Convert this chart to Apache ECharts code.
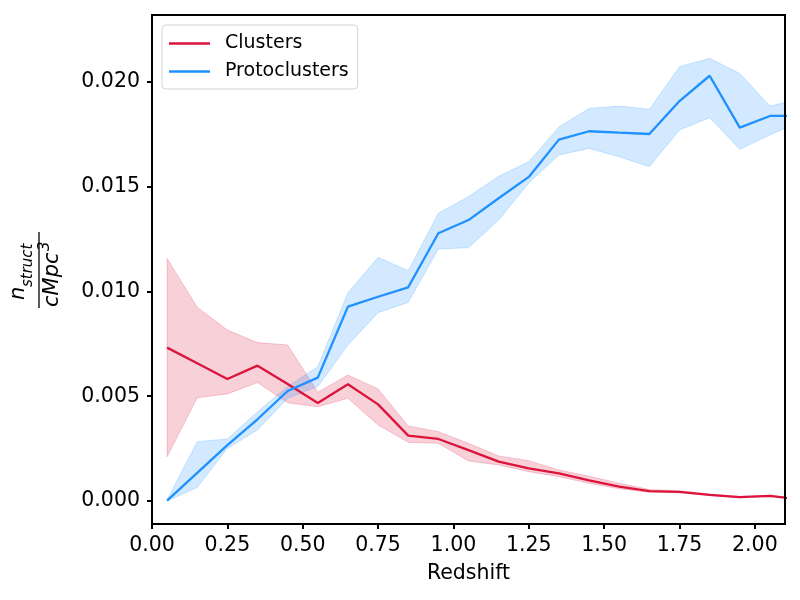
<!DOCTYPE html>
<html>
<head>
<meta charset="utf-8">
<script src="https://cdn.jsdelivr.net/npm/echarts@6/dist/echarts.min.js"></script>
<style>html,body{margin:0;padding:0;background:#fff}#c{width:800px;height:600px}</style>
</head>
<body>
<div id="c"></div>
<script>
// Redshift bins (last one lies beyond the axis edge and is clipped)
var redshift = [0.05, 0.15, 0.25, 0.35, 0.45, 0.55, 0.65, 0.75, 0.85, 0.95, 1.05, 1.15, 1.25, 1.35, 1.45, 1.55, 1.65, 1.75, 1.85, 1.95, 2.05, 2.15];

var clustersMean  = [0.00732, 0.00657, 0.00582, 0.00646, 0.00558, 0.00468, 0.00557, 0.00461, 0.00312, 0.00296, 0.00243, 0.00188, 0.00156, 0.00132, 0.00098, 0.00068, 0.00047, 0.00043, 0.00029, 0.00018, 0.00024, 0.00008];
var clustersUpper = [0.01158, 0.00925, 0.00816, 0.00756, 0.00745, 0.00519, 0.00601, 0.00535, 0.00358, 0.00331, 0.00275, 0.00215, 0.00192, 0.00148, 0.00118, 0.00085, 0.00055, 0.00048, 0.00033, 0.00021, 0.00027, 0.00010];
var clustersLower = [0.00211, 0.00493, 0.00511, 0.00565, 0.00469, 0.00450, 0.00490, 0.00363, 0.00280, 0.00275, 0.00191, 0.00172, 0.00140, 0.00116, 0.00084, 0.00058, 0.00042, 0.00039, 0.00026, 0.00016, 0.00021, 0.00006];

var protoMean  = [0.00002, 0.00134, 0.00267, 0.00390, 0.00525, 0.00589, 0.00928, 0.00975, 0.01020, 0.01278, 0.01341, 0.01445, 0.01547, 0.01725, 0.01765, 0.01758, 0.01752, 0.01909, 0.02030, 0.01782, 0.01838, 0.01838];
var protoUpper = [0.00005, 0.00283, 0.00296, 0.00426, 0.00546, 0.00641, 0.00994, 0.01163, 0.01099, 0.01373, 0.01453, 0.01550, 0.01620, 0.01785, 0.01874, 0.01885, 0.01870, 0.02073, 0.02113, 0.02041, 0.01885, 0.01920];
var protoLower = [0.00000, 0.00064, 0.00251, 0.00339, 0.00490, 0.00546, 0.00745, 0.00899, 0.00948, 0.01203, 0.01209, 0.01341, 0.01518, 0.01652, 0.01683, 0.01643, 0.01596, 0.01771, 0.01830, 0.01679, 0.01747, 0.01810];

var xTicks = [0, 0.25, 0.5, 0.75, 1.0, 1.25, 1.5, 1.75, 2.0];
var yTicks = [0, 0.005, 0.01, 0.015, 0.02];

var RED = '#DC143C', BLUE = '#1E90FF';
var FONT = 'DejaVu Sans';

function pairs(ys) { return redshift.map(function (x, i) { return [x, ys[i]]; }); }

function bandSeries(name, lower, upper, rgb) {
  var rows = redshift.map(function (x, i) { return [x, lower[i], upper[i]]; });
  return {
    name: name, type: 'custom', silent: true, z: 1,
    data: rows,
    encode: { x: 0, y: [1, 2] },
    renderItem: function (params, api) {
      if (params.dataIndex !== 0) return null;
      var pts = [];
      for (var i = 0; i < rows.length; i++) pts.push(api.coord([rows[i][0], rows[i][2]]));
      for (var j = rows.length - 1; j >= 0; j--) pts.push(api.coord([rows[j][0], rows[j][1]]));
      var cs = params.coordSys;
      return {
        type: 'polygon',
        shape: { points: pts },
        style: { fill: 'rgba(' + rgb + ',0.2)', stroke: 'rgba(' + rgb + ',0.2)', lineWidth: 1 },
        clipPath: { type: 'rect', shape: { x: cs.x, y: cs.y, width: cs.width, height: cs.height } }
      };
    }
  };
}

var chart = echarts.init(document.getElementById('c'), null, { renderer: 'canvas' });
var series = [
  { name: 'Clusters', type: 'line', data: pairs(clustersMean), symbol: 'none', color: RED,
    lineStyle: { width: 2.3, color: RED }, z: 3 },
  bandSeries('clBand', clustersLower, clustersUpper, '220,20,60'),
  { name: 'Protoclusters', type: 'line', data: pairs(protoMean), symbol: 'none', color: BLUE,
    lineStyle: { width: 2.3, color: BLUE }, z: 3 },
  bandSeries('pcBand', protoLower, protoUpper, '30,144,255')
];

chart.setOption({
  animation: false,
  backgroundColor: '#fff',
  textStyle: { fontFamily: FONT },
  grid: { left: 152, right: 15, top: 15, bottom: 76, show: true, borderColor: '#000', borderWidth: 2, backgroundColor: 'transparent', z: 5 },
  legend: {
    data: ['Clusters', 'Protoclusters'],
    orient: 'vertical', left: 162, top: 25,
    padding: [9, 9, 8, 7], itemGap: 9,
    itemWidth: 41, itemHeight: 2.6, icon: 'rect',
    borderColor: '#d4d4d4', borderWidth: 1, borderRadius: 4, backgroundColor: '#fff',
    textStyle: { fontFamily: FONT, fontSize: 19, color: '#000', padding: [0, 0, 0, 10] }
  },
  xAxis: {
    type: 'value', min: 0, max: 2.1,
    name: 'Redshift', nameLocation: 'middle', nameGap: 39,
    nameTextStyle: { fontFamily: FONT, fontSize: 20.5, color: '#000' },
    axisLine: { show: true, onZero: false, lineStyle: { color: '#000', width: 2 } },
    axisTick: { show: true, length: 5, lineStyle: { color: '#000', width: 2 }, customValues: xTicks },
    axisLabel: { fontFamily: FONT, fontSize: 20.5, color: '#000', margin: 11, customValues: xTicks,
      formatter: function (v) { return v.toFixed(2); } },
    splitLine: { show: false }
  },
  yAxis: {
    type: 'value', min: -0.0011, max: 0.0232,
    axisLine: { show: true, onZero: false, lineStyle: { color: '#000', width: 2 } },
    axisTick: { show: true, length: 5, lineStyle: { color: '#000', width: 2 }, customValues: yTicks },
    axisLabel: { fontFamily: FONT, fontSize: 20.5, color: '#000', margin: 12, customValues: yTicks,
      formatter: function (v) { return v.toFixed(3); } },
    splitLine: { show: false }
  },
  graphic: [{
    type: 'group', x: 39, y: 270, rotation: Math.PI / 2,
    children: [
      { type: 'text', style: { text: 'n', x: -30, y: -20, font: 'italic 21px "DejaVu Sans"', fill: '#000', align: 'left', verticalAlign: 'middle' } },
      { type: 'text', style: { text: 'struct', x: -17, y: -11, font: 'italic 15px "DejaVu Sans"', fill: '#000', align: 'left', verticalAlign: 'middle' } },
      { type: 'line', shape: { x1: -38, y1: 0, x2: 38, y2: 0 }, style: { stroke: '#000', lineWidth: 1.3 } },
      { type: 'text', style: { text: 'cMpc', x: -37, y: 14, font: 'italic 21px "DejaVu Sans"', fill: '#000', align: 'left', verticalAlign: 'middle' } },
      { type: 'text', style: { text: '3', x: 19, y: 6, font: 'italic 15px "DejaVu Sans"', fill: '#000', align: 'left', verticalAlign: 'middle' } }
    ]
  }],
  series: series
});
</script>
</body>
</html>
